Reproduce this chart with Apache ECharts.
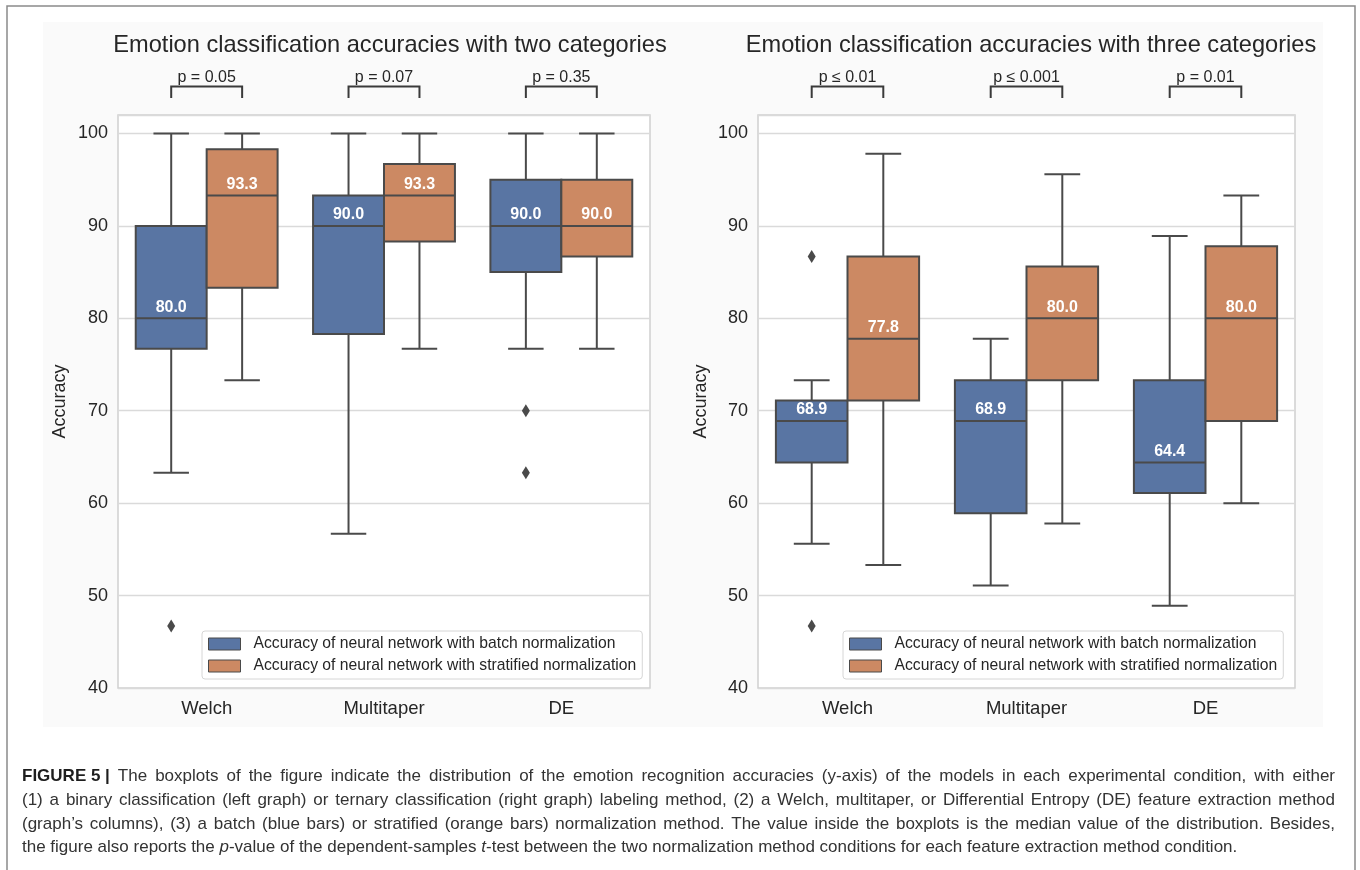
<!DOCTYPE html>
<html>
<head>
<meta charset="utf-8">
<script src="https://cdn.jsdelivr.net/npm/echarts@6/dist/echarts.min.js"></script>
<style>
html,body{margin:0;padding:0;background:#fff;}
#chart{width:1360px;height:870px;}
</style>
</head>
<body>
<div id="chart"></div>
<script>
// ---------- data ----------
const CATEGORIES = ['Welch', 'Multitaper', 'DE'];
const Y_TICKS = [40, 50, 60, 70, 80, 90, 100];
const SERIES_NAMES = ['Accuracy of neural network with batch normalization',
                      'Accuracy of neural network with stratified normalization'];
// each box: [whiskerLow, Q1, median, Q3, whiskerHigh]
const TWO_BATCH  = [[63.3, 76.7, 80.0, 90.0, 100], [56.7, 78.3, 90.0, 93.3, 100], [76.7, 85.0, 90.0, 95.0, 100]];
const TWO_STRAT  = [[73.3, 83.3, 93.3, 98.3, 100], [76.7, 88.3, 93.3, 96.7, 100], [76.7, 86.7, 90.0, 95.0, 100]];
const TWO_BATCH_OUTLIERS = [[0, 46.7], [2, 70.0], [2, 63.3]];
const THREE_BATCH = [[55.6, 64.4, 68.9, 71.1, 73.3], [51.1, 58.9, 68.9, 73.3, 77.8], [48.9, 61.1, 64.4, 73.3, 88.9]];
const THREE_STRAT = [[53.3, 71.1, 77.8, 86.7, 97.8], [57.8, 73.3, 80.0, 85.6, 95.6], [60.0, 68.9, 80.0, 87.8, 93.3]];
const THREE_BATCH_OUTLIERS = [[0, 86.7], [0, 46.7]];
const P_TWO = ['p = 0.05', 'p = 0.07', 'p = 0.35'];
const P_THREE = ['p ≤ 0.01', 'p ≤ 0.001', 'p = 0.01'];
const TITLES = ['Emotion classification accuracies with two categories',
                'Emotion classification accuracies with three categories'];
const CAPTION_LINES = [
  '{b|FIGURE 5 |} The boxplots of the figure indicate the distribution of the emotion recognition accuracies (y-axis) of the models in each experimental condition, with either',
  '(1) a binary classification (left graph) or ternary classification (right graph) labeling method, (2) a Welch, multitaper, or Differential Entropy (DE) feature extraction method',
  '(graph’s columns), (3) a batch (blue bars) or stratified (orange bars) normalization method. The value inside the boxplots is the median value of the distribution. Besides,',
  'the figure also reports the {i|p}-value of the dependent-samples {i|t}-test between the two normalization method conditions for each feature extraction method condition.'
];

// ---------- style ----------
const FONT = "'Liberation Sans', Arial, Helvetica, sans-serif";
const BLUE = '#5975a3';
const ORANGE = '#cc8963';
const LINE = '#4a4a4a';
const TXT = '#262626';
const CAP_SIZE = 17;
const CAP_COLOR = '#333333';

function boxRender(hue) {
  return function (params, api) {
    const cat = api.value(0);
    const band = api.size([1, 0])[0];
    const w = band * 0.4;
    const base = api.coord([cat, api.value(3)]);
    const cx = base[0] + (hue === 0 ? -w / 2 : w / 2);
    const yLo = api.coord([cat, api.value(1)])[1];
    const yQ1 = api.coord([cat, api.value(2)])[1];
    const yMed = base[1];
    const yQ3 = api.coord([cat, api.value(4)])[1];
    const yHi = api.coord([cat, api.value(5)])[1];
    const lineStyle = { stroke: LINE, lineWidth: 2, fill: null };
    const color = api.visual('color');
    return {
      type: 'group',
      children: [
        { type: 'line', shape: { x1: cx, y1: yQ3, x2: cx, y2: yHi }, style: lineStyle },
        { type: 'line', shape: { x1: cx, y1: yQ1, x2: cx, y2: yLo }, style: lineStyle },
        { type: 'line', shape: { x1: cx - w / 4, y1: yHi, x2: cx + w / 4, y2: yHi }, style: lineStyle },
        { type: 'line', shape: { x1: cx - w / 4, y1: yLo, x2: cx + w / 4, y2: yLo }, style: lineStyle },
        { type: 'rect', shape: { x: cx - w / 2, y: yQ3, width: w, height: yQ1 - yQ3 },
          style: { fill: color, stroke: LINE, lineWidth: 2 } },
        { type: 'line', shape: { x1: cx - w / 2, y1: yMed, x2: cx + w / 2, y2: yMed }, style: lineStyle },
        { type: 'text', x: cx, y: yMed - 3,
          style: { text: api.value(3).toFixed(1), fill: '#ffffff', font: 'bold 16px ' + FONT,
                   align: 'center', verticalAlign: 'bottom' } }
      ]
    };
  };
}

function outlierRender(hue) {
  return function (params, api) {
    const cat = api.value(0);
    const band = api.size([1, 0])[0];
    const w = band * 0.4;
    const p = api.coord([cat, api.value(1)]);
    const cx = p[0] + (hue === 0 ? -w / 2 : w / 2);
    const y = p[1];
    return {
      type: 'polygon',
      shape: { points: [[cx, y - 6.5], [cx + 4, y], [cx, y + 6.5], [cx - 4, y]] },
      style: { fill: LINE, stroke: null }
    };
  };
}

function bracketRender(labels) {
  return function (params, api) {
    const cat = api.value(0);
    const band = api.size([1, 0])[0];
    const w = band * 0.4;
    const cx = api.coord([cat, api.value(1)])[0];
    const top = params.coordSys.y;
    const x1 = cx - w / 2, x2 = cx + w / 2;
    const yTop = top - 28.5, yLeg = top - 17;
    return {
      type: 'group',
      children: [
        { type: 'polyline', shape: { points: [[x1, yLeg], [x1, yTop], [x2, yTop], [x2, yLeg]] },
          style: { stroke: '#3a3a3a', lineWidth: 2, fill: null } },
        { type: 'text', x: cx, y: yTop - 1,
          style: { text: labels[params.dataIndex], fill: TXT, font: '16px ' + FONT,
                   align: 'center', verticalAlign: 'bottom' } }
      ]
    };
  };
}

// ---------- caption (justified word by word) ----------
const measureCtx = document.createElement('canvas').getContext('2d');
function segFont(tag) {
  if (tag === 'b') return 'bold ' + CAP_SIZE + 'px ' + FONT;
  if (tag === 'i') return 'italic ' + CAP_SIZE + 'px ' + FONT;
  return CAP_SIZE + 'px ' + FONT;
}
function tokenWidth(tok) {
  let w = 0;
  const re = /\{(\w)\|([^}]*)\}|([^{]+)/g;
  let m;
  while ((m = re.exec(tok)) !== null) {
    measureCtx.font = segFont(m[1] ? m[1] : '');
    w += measureCtx.measureText(m[1] ? m[2] : m[3]).width;
  }
  return w;
}
function captionElements() {
  const els = [];
  const x0 = 22, x1 = 1335;
  const ys = [776, 800, 824, 847];
  measureCtx.font = segFont('');
  const spaceW = measureCtx.measureText(' ').width;
  CAPTION_LINES.forEach((line, li) => {
    const toks = line.match(/\{[^}]*\}\S*|\S+/g);
    const widths = toks.map(tokenWidth);
    const total = widths.reduce((a, b) => a + b, 0);
    const justify = li < CAPTION_LINES.length - 1;
    const gap = justify ? (x1 - x0 - total) / (toks.length - 1) : spaceW;
    let x = x0;
    toks.forEach((t, ti) => {
      els.push({
        type: 'text', x: x, y: ys[li], silent: true,
        style: {
          text: t, font: segFont(''), fill: CAP_COLOR, verticalAlign: 'middle', align: 'left',
          rich: {
            b: { fontWeight: 'bold', fontSize: CAP_SIZE, fill: '#1e1e1e', fontFamily: FONT },
            i: { fontStyle: 'italic', fontSize: CAP_SIZE, fill: CAP_COLOR, fontFamily: FONT }
          }
        }
      });
      x += widths[ti] + gap;
    });
  });
  return els;
}

const catIdx = CATEGORIES.map((c, i) => i);
function boxData(arr) { return arr.map((b, i) => [i].concat(b)); }

const grids = [
  { left: 118, right: 710, top: 115, bottom: 182 },
  { left: 758, right: 65, top: 115, bottom: 182 }
];
const yNameGap = [49, 48];

const option = {
  animation: false,
  backgroundColor: '#ffffff',
  textStyle: { fontFamily: FONT },
  title: TITLES.map((t, i) => ({
    text: t,
    left: i === 0 ? 385 : 1026,
    textAlign: 'center',
    top: 28,
    textStyle: { fontSize: 23.6, fontWeight: 'normal', color: TXT, fontFamily: FONT }
  })),
  grid: grids.map(g => Object.assign({
    show: true, backgroundColor: '#ffffff', borderColor: '#cfcfcf', borderWidth: 1.5
  }, g)),
  legend: [
    { left: 202, top: 631 },
    { left: 843, top: 631 }
  ].map(p => Object.assign({
    orient: 'vertical',
    data: SERIES_NAMES,
    icon: 'rect',
    itemWidth: 32, itemHeight: 12, itemGap: 6,
    padding: [5, 6, 5, 6],
    borderColor: '#d6d6d6', borderWidth: 1, borderRadius: 3,
    backgroundColor: 'rgba(255,255,255,0.85)',
    itemStyle: { borderColor: '#4a4a4a', borderWidth: 1 },
    textStyle: { fontSize: 15.7, color: TXT, fontFamily: FONT, padding: [0, 0, 0, 8] },
    selectedMode: false
  }, p)),
  xAxis: [0, 1].map(i => ({
    type: 'category', gridIndex: i, data: CATEGORIES,
    axisLine: { show: false }, axisTick: { show: false },
    axisLabel: { fontSize: 18.5, color: TXT, margin: 11, fontFamily: FONT },
    splitLine: { show: false }
  })),
  yAxis: [0, 1].map(i => ({
    type: 'value', gridIndex: i, min: 40, max: 102, interval: 10,
    name: 'Accuracy', nameLocation: 'middle', nameGap: yNameGap[i],
    nameTextStyle: { fontSize: 18, color: TXT, fontFamily: FONT },
    axisLine: { show: false }, axisTick: { show: false },
    axisLabel: { fontSize: 18, color: TXT, margin: 10, fontFamily: FONT, showMaxLabel: false,
                 formatter: v => (Y_TICKS.indexOf(v) >= 0 ? String(v) : '') },
    splitLine: { lineStyle: { color: '#dadada', width: 1.3 } }
  })),
  series: [
    { type: 'custom', name: SERIES_NAMES[0], xAxisIndex: 0, yAxisIndex: 0, itemStyle: { color: BLUE },
      renderItem: boxRender(0), data: boxData(TWO_BATCH), encode: { x: 0, y: [1, 2, 3, 4, 5] }, z: 3 },
    { type: 'custom', name: SERIES_NAMES[1], xAxisIndex: 0, yAxisIndex: 0, itemStyle: { color: ORANGE },
      renderItem: boxRender(1), data: boxData(TWO_STRAT), encode: { x: 0, y: [1, 2, 3, 4, 5] }, z: 3 },
    { type: 'custom', name: 'outliers-two', xAxisIndex: 0, yAxisIndex: 0,
      renderItem: outlierRender(0), data: TWO_BATCH_OUTLIERS, encode: { x: 0, y: 1 }, z: 3 },
    { type: 'custom', name: 'p-two', xAxisIndex: 0, yAxisIndex: 0,
      renderItem: bracketRender(P_TWO), data: catIdx.map(i => [i, 100]), encode: { x: 0, y: 1 }, z: 3 },
    { type: 'custom', name: SERIES_NAMES[0], xAxisIndex: 1, yAxisIndex: 1, itemStyle: { color: BLUE },
      renderItem: boxRender(0), data: boxData(THREE_BATCH), encode: { x: 0, y: [1, 2, 3, 4, 5] }, z: 3 },
    { type: 'custom', name: SERIES_NAMES[1], xAxisIndex: 1, yAxisIndex: 1, itemStyle: { color: ORANGE },
      renderItem: boxRender(1), data: boxData(THREE_STRAT), encode: { x: 0, y: [1, 2, 3, 4, 5] }, z: 3 },
    { type: 'custom', name: 'outliers-three', xAxisIndex: 1, yAxisIndex: 1,
      renderItem: outlierRender(0), data: THREE_BATCH_OUTLIERS, encode: { x: 0, y: 1 }, z: 3 },
    { type: 'custom', name: 'p-three', xAxisIndex: 1, yAxisIndex: 1,
      renderItem: bracketRender(P_THREE), data: catIdx.map(i => [i, 100]), encode: { x: 0, y: 1 }, z: 3 }
  ],
  graphic: [
    { type: 'rect', z: -10, silent: true, shape: { x: 43, y: 22, width: 1280, height: 705 },
      style: { fill: '#fafafa' } },
    { type: 'rect', z: -9, silent: true, shape: { x: 7, y: 6, width: 1348, height: 900 },
      style: { fill: null, stroke: '#8a8a8a', lineWidth: 1.5 } }
  ].concat(captionElements())
};

const chart = echarts.init(document.getElementById('chart'), null, { renderer: 'canvas' });
chart.setOption(option);
</script>
</body>
</html>
